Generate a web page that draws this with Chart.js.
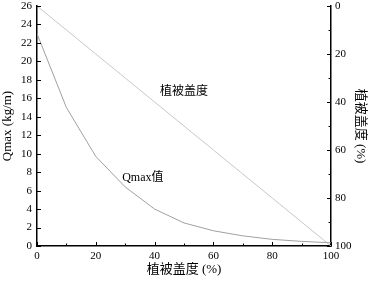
<!DOCTYPE html>
<html>
<head>
<meta charset="utf-8">
<script src="https://cdn.jsdelivr.net/npm/chart.js@4/dist/chart.umd.min.js"></script>
<style>
  html, body { margin: 0; padding: 0; background: #fff; }
  #wrap { width: 368px; height: 281px; }
</style>
</head>
<body>
<div id="wrap"><canvas id="c" width="368" height="281"></canvas></div>
<script>
// 植被盖度 (%) along x
const coverage  = [0, 10, 20, 30, 40, 50, 60, 70, 80, 90, 100];
// Qmax (kg/m)
const qmax      = [23, 15, 9.7, 6.4, 4.0, 2.5, 1.65, 1.1, 0.72, 0.5, 0.35];
// 植被盖度 on the reversed right axis
const vegCover  = [0, 10, 20, 30, 40, 50, 60, 70, 80, 90, 100];

const xTicks     = [0, 20, 40, 60, 80, 100];
const xMinor     = [10, 30, 50, 70, 90];
const leftTicks  = [0, 2, 4, 6, 8, 10, 12, 14, 16, 18, 20, 22, 24, 26];
const rightTicks = [0, 20, 40, 60, 80, 100];
const rightMinor = [10, 30, 50, 70, 90];

const SERIF = '"Liberation Serif", "Noto Sans CJK SC", serif';

// tick marks pointing into the plot, like the original
const innerTicks = {
    id: 'innerTicks',
    afterDraw(chart) {
        const { ctx, chartArea: a, scales } = chart;
        ctx.save();
        ctx.strokeStyle = '#000';
        ctx.lineWidth = 1;
        const tick = (x1, y1, x2, y2) => { ctx.beginPath(); ctx.moveTo(x1, y1); ctx.lineTo(x2, y2); ctx.stroke(); };
        xTicks.forEach(v => { const p = Math.round(scales.x.getPixelForValue(v)) + 0.5; tick(p, a.bottom, p, a.bottom - 4); });
        xMinor.forEach(v => { const p = Math.round(scales.x.getPixelForValue(v)) + 0.5; tick(p, a.bottom, p, a.bottom - 2.5); });
        leftTicks.forEach(v => { const p = Math.round(scales.y.getPixelForValue(v)) + 0.5; tick(a.left, p, a.left + 4, p); });
        rightTicks.forEach(v => { const p = Math.round(scales.y2.getPixelForValue(v)) + 0.5; tick(a.right, p, a.right - 4, p); });
        rightMinor.forEach(v => { const p = Math.round(scales.y2.getPixelForValue(v)) + 0.5; tick(a.right, p, a.right - 2.5, p); });
        ctx.restore();
    }
};

// in-plot series labels, placed in data units
const seriesLabels = {
    id: 'seriesLabels',
    afterDatasetsDraw(chart) {
        const { ctx, scales } = chart;
        ctx.save();
        ctx.fillStyle = '#000';
        ctx.font = '12px ' + SERIF;
        ctx.textAlign = 'center';
        ctx.textBaseline = 'middle';
        ctx.fillText('植被盖度', scales.x.getPixelForValue(50), scales.y.getPixelForValue(16.7));
        ctx.fillText('Qmax值', scales.x.getPixelForValue(36), scales.y.getPixelForValue(7.4));
        ctx.restore();
    }
};

const tickFont  = { family: SERIF, size: 11 };
const titleFont = { family: SERIF, size: 13 };
const noGrid    = { display: false, drawTicks: false };

const fitY = s => { s.width = 37; s.paddingTop = 0; s.paddingBottom = 0; };

new Chart(document.getElementById('c'), {
    type: 'line',
    data: {
        datasets: [
            {
                label: 'Qmax值',
                data: coverage.map((x, i) => ({ x, y: qmax[i] })),
                yAxisID: 'y',
                borderColor: '#a0a0a0',
                borderWidth: 1,
                pointRadius: 0,
                tension: 0,
                fill: false,
            },
            {
                label: '植被盖度',
                data: coverage.map((x, i) => ({ x, y: vegCover[i] })),
                yAxisID: 'y2',
                borderColor: '#c8c8c8',
                borderWidth: 1,
                pointRadius: 0,
                tension: 0,
                fill: false,
            }
        ]
    },
    options: {
        responsive: false,
        animation: false,
        layout: { padding: { top: 6, left: 0, right: 0, bottom: 0 } },
        plugins: { legend: { display: false }, tooltip: { enabled: false } },
        scales: {
            x: {
                type: 'linear', min: 0, max: 100,
                afterBuildTicks: s => { s.ticks = xTicks.map(v => ({ value: v })); },
                afterFit: s => { s.height = 35; },
                ticks: { font: tickFont, color: '#000', padding: 4, maxRotation: 0 },
                grid: noGrid,
                border: { display: true, color: '#000', width: 1.5 },
                title: { display: true, text: '植被盖度 (%)', font: titleFont, color: '#000', padding: { top: 0, bottom: 4 } }
            },
            y: {
                position: 'left', min: 0, max: 26,
                afterBuildTicks: s => { s.ticks = leftTicks.map(v => ({ value: v })); },
                afterFit: fitY,
                ticks: { font: tickFont, color: '#000', padding: 5 },
                grid: noGrid,
                border: { display: true, color: '#000', width: 1.5 },
                title: { display: true, text: 'Qmax (kg/m)', font: titleFont, color: '#000', padding: { top: 0, bottom: 0 } }
            },
            y2: {
                position: 'right', min: 0, max: 100, reverse: true,
                afterBuildTicks: s => { s.ticks = rightTicks.map(v => ({ value: v })); },
                afterFit: fitY,
                ticks: { font: tickFont, color: '#000', padding: 4 },
                grid: noGrid,
                border: { display: true, color: '#000', width: 1.5 },
                title: { display: true, text: '植被盖度 (%)', font: titleFont, color: '#000', padding: { top: 0, bottom: 0 } }
            }
        }
    },
    plugins: [innerTicks, seriesLabels]
});
</script>
</body>
</html>
